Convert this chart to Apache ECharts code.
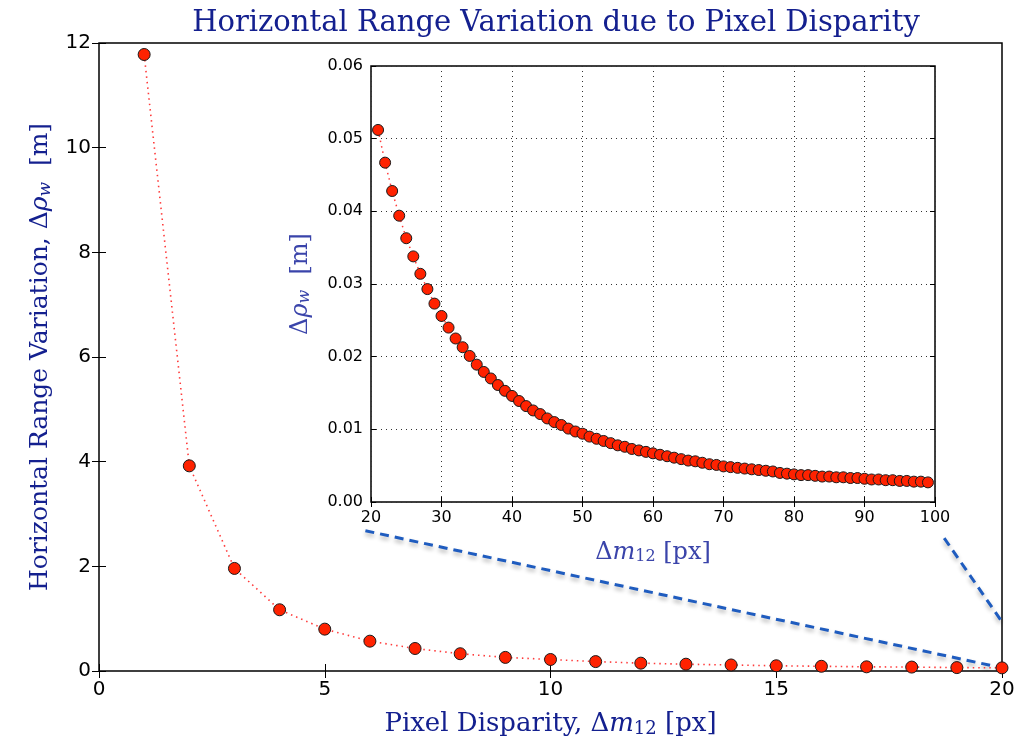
<!DOCTYPE html>
<html>
<head>
<meta charset="utf-8">
<script src="https://cdn.jsdelivr.net/npm/echarts@6/dist/echarts.min.js"></script>
<style>html,body{margin:0;padding:0;background:#fff}#c{width:1024px;height:753px}</style>
</head>
<body>
<div id="c"></div>
<script>
// ---- data ----
const mainX = [1,2,3,4,5,6,7,8,9,10,11,12,13,14,15,16,17,18,19,20];
const mainY = [11.78,3.92,1.96,1.17,0.80,0.57,0.43,0.33,0.26,0.22,0.18,0.15,0.13,0.115,0.10,0.09,0.08,0.075,0.065,0.06];
const insetX = [];
for (let d = 21; d <= 99; d++) insetX.push(d);
const insetY = [
  0.0512,0.0467,0.0428,0.0394,0.0363,0.0338,0.0314,0.0293,0.0273,0.0256, // 21-30
  0.0240,0.0225,0.0213,0.0201,0.0189,0.0179,0.0170,0.0161,0.0153,0.0146, // 31-40
  0.0139,0.0132,0.0126,0.0121,0.0115,0.0110,0.0106,0.0101,0.0097,0.0094, // 41-50
  0.0090,0.0087,0.0084,0.0081,0.0078,0.0076,0.0073,0.0071,0.0069,0.0067, // 51-60
  0.0065,0.0063,0.0061,0.0059,0.0057,0.0056,0.0054,0.0052,0.0051,0.0049, // 61-70
  0.0048,0.0047,0.0046,0.0045,0.0044,0.0043,0.0042,0.0040,0.0039,0.0038, // 71-80
  0.0037,0.0037,0.0036,0.0035,0.0035,0.0034,0.0034,0.0033,0.0033,0.0032, // 81-90
  0.0031,0.0031,0.0030,0.0030,0.0029,0.0029,0.0028,0.0028,0.0027        // 91-99
];
const mainXTicks = {min: 0, max: 20, interval: 5};
const mainYTicks = {min: 0, max: 12, interval: 2};
const insetXTicks = {min: 20, max: 100, interval: 10};
const insetYTicks = {min: 0, max: 0.06, interval: 0.01};
// zoom connector lines (main-axes data coordinates)
const connectorA = [[5.9, 2.68], [20, 0.06]];
const connectorB = [[18.72, 2.54], [20, 0.94]];

const titleText = 'Horizontal Range Variation due to Pixel Disparity';

// ---- chart ----
const navy = '#14208f';
const serif = 'DejaVu Serif';
const mainPairs = mainX.map((x, i) => [x, mainY[i]]);
const insetPairs = insetX.map((x, i) => [x, insetY[i]]);

function subRich(size, color) {
  return {
    n: {fontFamily: serif, fontSize: size, color: color},
    i: {fontFamily: serif, fontSize: size, color: color, fontStyle: 'italic'},
    s: {fontFamily: serif, fontSize: Math.round(size * 0.68), color: color, verticalAlign: 'bottom', lineHeight: size * 1.05},
    si: {fontFamily: serif, fontSize: Math.round(size * 0.68), color: color, fontStyle: 'italic', verticalAlign: 'bottom', lineHeight: size * 1.05}
  };
}

const tickCommon = (len) => ({show: true, inside: true, length: len, lineStyle: {color: '#000', width: 1}});

const chart = echarts.init(document.getElementById('c'), null, {renderer: 'canvas'});
chart.setOption({
  backgroundColor: '#fff',
  animation: false,
  title: {
    text: titleText,
    left: 551,
    textAlign: 'center',
    top: 4,
    textStyle: {fontFamily: 'DejaVu Serif', fontSize: 29, fontWeight: 'normal', color: navy}
  },
  grid: [
    {left: 99, right: 22, top: 43, bottom: 82, show: true, borderColor: '#000', borderWidth: 1.5, backgroundColor: '#fff', z: 0},
    {left: 371, right: 89, top: 66, bottom: 251, show: true, borderColor: '#000', borderWidth: 1.5, backgroundColor: '#fff', z: 5}
  ],
  xAxis: [
    {type: 'value', gridIndex: 0, position: 'bottom', ...mainXTicks,
     axisLine: {show: false}, axisTick: tickCommon(7), splitLine: {show: false},
     axisLabel: {fontFamily: 'DejaVu Sans', fontSize: 20, color: '#000', margin: 9},
     name: '{n|Pixel Disparity, Δ}{i|m}{s|12}{n| [px]}', nameLocation: 'middle', nameGap: 40,
     nameTextStyle: {rich: subRich(26, navy)}},
    {type: 'value', gridIndex: 0, position: 'top', ...mainXTicks,
     axisLine: {show: false}, axisTick: tickCommon(7), splitLine: {show: false}, axisLabel: {show: false}},
    {type: 'value', gridIndex: 1, position: 'bottom', ...insetXTicks, z: 6,
     axisLine: {show: false}, axisTick: tickCommon(5),
     splitLine: {show: true, lineStyle: {color: '#333', type: [1, 4], width: 1}},
     axisLabel: {fontFamily: 'DejaVu Sans', fontSize: 16, color: '#000', margin: 8},
     name: '{n|Δ}{i|m}{s|12}{n| [px]}', nameLocation: 'middle', nameGap: 38,
     nameTextStyle: {rich: subRich(24, '#3a44aa')}},
    {type: 'value', gridIndex: 1, position: 'top', ...insetXTicks, z: 6,
     axisLine: {show: false}, axisTick: tickCommon(5), splitLine: {show: false}, axisLabel: {show: false}}
  ],
  yAxis: [
    {type: 'value', gridIndex: 0, position: 'left', ...mainYTicks,
     axisLine: {show: false}, axisTick: tickCommon(7), splitLine: {show: false},
     axisLabel: {fontFamily: 'DejaVu Sans', fontSize: 20, color: '#000', margin: 8},
     name: '{n|Horizontal Range Variation, Δ}{i|ρ}{si|w}{n|  [m]}', nameLocation: 'middle', nameGap: 45,
     nameRotate: 90, nameTextStyle: {rich: subRich(25, navy)}},
    {type: 'value', gridIndex: 0, position: 'right', ...mainYTicks,
     axisLine: {show: false}, axisTick: tickCommon(7), splitLine: {show: false}, axisLabel: {show: false}},
    {type: 'value', gridIndex: 1, position: 'left', ...insetYTicks, z: 6,
     axisLine: {show: false}, axisTick: tickCommon(5),
     splitLine: {show: true, lineStyle: {color: '#333', type: [1, 4], width: 1}},
     axisLabel: {fontFamily: 'DejaVu Sans', fontSize: 16, color: '#000', margin: 8,
                 formatter: v => v.toFixed(2)},
     name: '{n|Δ}{i|ρ}{si|w}{n|  [m]}', nameLocation: 'middle', nameGap: 58,
     nameRotate: 90, nameTextStyle: {rich: subRich(24, '#3a44aa')}},
    {type: 'value', gridIndex: 1, position: 'right', ...insetYTicks, z: 6,
     axisLine: {show: false}, axisTick: tickCommon(5), splitLine: {show: false}, axisLabel: {show: false}}
  ],
  series: [
    {type: 'line', xAxisIndex: 0, yAxisIndex: 0, data: mainPairs, z: 3,
     symbol: 'circle', symbolSize: 12,
     lineStyle: {color: '#ff3b3b', width: 1.6, type: [1.5, 4]},
     itemStyle: {color: '#ff2200', borderColor: '#1a1a1a', borderWidth: 1}},
    {type: 'line', xAxisIndex: 0, yAxisIndex: 0, data: connectorA, symbol: 'none', z: 2,
     lineStyle: {color: '#1f5cbf', width: 3, type: [9, 6],
                 shadowColor: 'rgba(0,0,0,0.3)', shadowBlur: 4, shadowOffsetY: 3}},
    {type: 'line', xAxisIndex: 0, yAxisIndex: 0, data: connectorB, symbol: 'none', z: 2,
     lineStyle: {color: '#1f5cbf', width: 3, type: [9, 6],
                 shadowColor: 'rgba(0,0,0,0.3)', shadowBlur: 4, shadowOffsetY: 3}},
    {type: 'line', xAxisIndex: 2, yAxisIndex: 2, data: insetPairs, z: 8,
     symbol: 'circle', symbolSize: 11,
     lineStyle: {color: '#ff3b3b', width: 1.5, type: [1.5, 4]},
     itemStyle: {color: '#ff2200', borderColor: '#1a1a1a', borderWidth: 1}}
  ]
});
</script>
</body>
</html>
